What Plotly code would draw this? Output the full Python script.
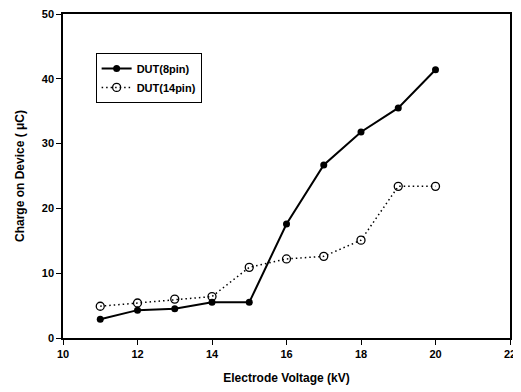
import plotly.graph_objects as go

voltage = [11, 12, 13, 14, 15, 16, 17, 18, 19, 20]
dut8 = [2.9, 4.3, 4.5, 5.5, 5.5, 17.6, 26.7, 31.8, 35.5, 41.4]
dut14 = [4.9, 5.4, 6.0, 6.4, 10.9, 12.2, 12.6, 15.1, 23.4, 23.4]
xticks = [10, 12, 14, 16, 18, 20, 22]
yticks = [0, 10, 20, 30, 40, 50]

font = dict(family="Liberation Sans, Arial, sans-serif", color="black")

fig = go.Figure()
fig.add_trace(go.Scatter(x=voltage, y=dut8, mode="lines+markers", name="<b>DUT(8pin)</b>",
                         line=dict(color="black", width=2),
                         marker=dict(symbol="circle", size=7, color="black")))
fig.add_trace(go.Scatter(x=voltage, y=dut14, mode="lines+markers", name="<b>DUT(14pin)</b>",
                         line=dict(color="black", width=1.5, dash="1.5px,3px"),
                         marker=dict(symbol="circle-open", size=8, color="black", line=dict(width=1.3))))

axis_common = dict(showline=True, linecolor="black", linewidth=1.5, mirror=True,
                   ticks="outside", ticklen=5, tickcolor="black", showgrid=False, zeroline=False,
                   automargin=False, ticklabeloverflow="allow",
                   tickfont=dict(size=11, weight="bold", **font))
fig.update_xaxes(range=[10, 22], tickvals=xticks, ticktext=[str(v) for v in xticks],
                 title=dict(text="Electrode Voltage (kV)", font=dict(size=12, weight="bold", **font)),
                 **axis_common)
fig.update_yaxes(range=[0, 50], tickvals=yticks, ticktext=[str(v) for v in yticks],
                 title=dict(text="Charge on Device ( μC)", font=dict(size=12, weight="bold", **font)),
                 **axis_common)

# page body has an 8px default margin; compensate so the plot lands where the reference has it
fig.update_layout(width=521, height=392, margin=dict(l=55, r=19, t=6, b=62),
                  plot_bgcolor="white", paper_bgcolor="white", font=font,
                  showlegend=True,
                  legend=dict(x=0.073, y=0.88, xanchor="left", yanchor="top",
                              bordercolor="black", borderwidth=1, bgcolor="white",
                              font=dict(size=11, **font), itemwidth=30, tracegroupgap=0))
fig.write_html("out.html")
